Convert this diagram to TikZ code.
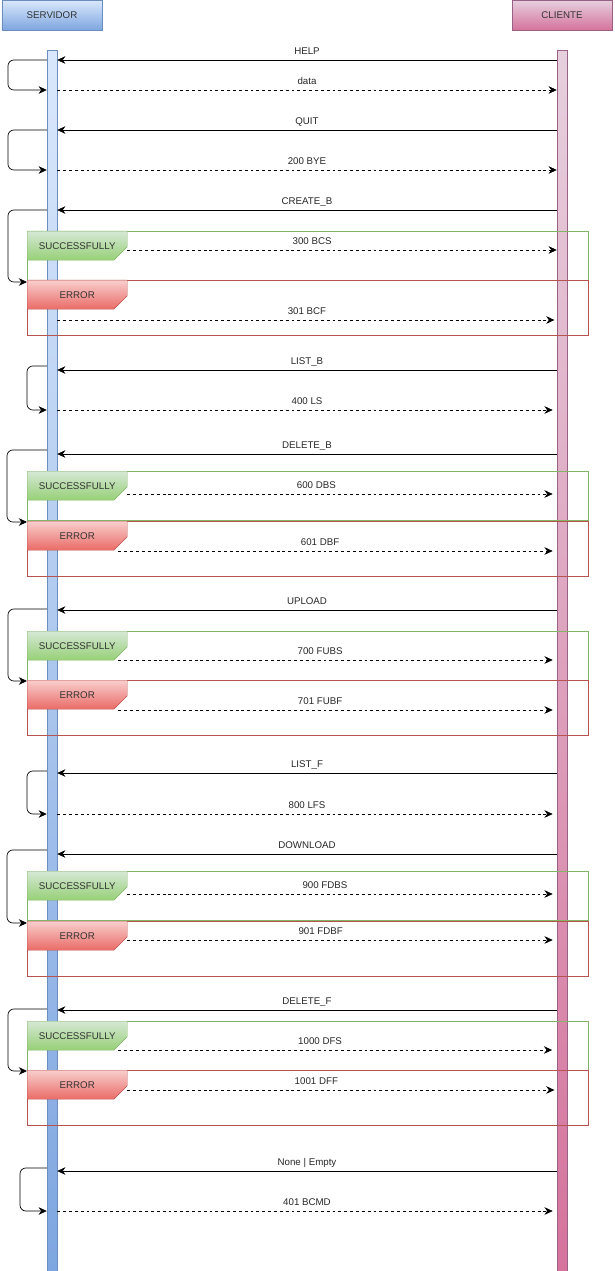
\documentclass[tikz,border=0pt]{standalone}
\usepackage{fontspec}
\setmainfont{Liberation Sans}
\usetikzlibrary{arrows.meta, calc, shapes.misc}
\definecolor{srvTop}{HTML}{DAE8FC}
\definecolor{srvBot}{HTML}{7EA6E0}
\definecolor{srvLine}{HTML}{6C8EBF}
\definecolor{cliTop}{HTML}{E6D0DE}
\definecolor{cliBot}{HTML}{D5739D}
\definecolor{cliLine}{HTML}{996185}
\definecolor{okTop}{HTML}{D5E8D4}
\definecolor{okBot}{HTML}{97D077}
\definecolor{okLine}{HTML}{82B366}
\definecolor{errTop}{HTML}{F8CECC}
\definecolor{errBot}{HTML}{EA6B66}
\definecolor{errLine}{HTML}{B85450}
\newcommand{\lblfont}{\fontsize{8.3}{10}\selectfont}

\begin{document}
\begin{tikzpicture}[
    % one unit = one pixel of the sketch, y grows downwards
    x=0.03cm, y=-0.03cm,
    head/.style={draw=#1Line, top color=#1Top, bottom color=#1Bot,
                 minimum width=3cm, minimum height=0.9cm, inner sep=0pt,
                 font=\lblfont, text=black!80},
    life/.style={draw=#1Line, top color=#1Top, bottom color=#1Bot, anchor=north,
                 minimum width=0.3cm, minimum height=36.63cm, inner sep=0pt},
    tab/.style={chamfered rectangle, chamfered rectangle corners=south east,
                chamfered rectangle xsep=0.27cm, chamfered rectangle ysep=0.3cm,
                draw=#1Line, top color=#1Top, bottom color=#1Bot, anchor=north west,
                minimum width=3cm, minimum height=0.87cm, inner sep=0pt,
                font=\lblfont, text=black!80},
    okframe/.style={draw=okLine, anchor=north west, inner sep=0pt,
                    minimum width=16.83cm, minimum height=1.48cm},
    errframe/.style={draw=errLine, anchor=north west, inner sep=0pt,
                     minimum width=16.83cm, minimum height=1.635cm},
    req/.style={-{Stealth[length=7pt, width=6.5pt]}, line width=0.6pt},
    rep/.style={req, dash pattern=on 2.5pt off 2.5pt},
    selfloop/.style={req, rounded corners=5pt},
    lbl/.style={anchor=base, yshift=5pt, font=\lblfont, text=black!85}
  ]
  \useasboundingbox (0,0) rectangle (614,1271);

  % ── Participants and lifelines ───────────────────────────────────────────
  \node[head=srv] (srvhead) at (52,15)  {SERVIDOR};
  \node[head=cli] (clihead) at (562,15) {CLIENTE};
  \node[life=srv] (srv) at (52,50)  {};
  \node[life=cli] (cli) at (562,50) {};

  % ── HELP / QUIT ──────────────────────────────────────────────────────────
  \draw[req] (cli.west |- 0,60) -- node[lbl]{HELP} (srv.east |- 0,60);
  \draw[selfloop] (srv.west |- 0,60) -- (8,60) -- (8,90) -- (srv.west |- 0,90);
  \draw[rep] (srv.east |- 0,90) -- node[lbl]{data} (cli.west |- 0,90);

  \draw[req] (cli.west |- 0,130) -- node[lbl]{QUIT} (srv.east |- 0,130);
  \draw[selfloop] (srv.west |- 0,130) -- (8,130) -- (8,170) -- (srv.west |- 0,170);
  \draw[rep] (srv.east |- 0,170) -- node[lbl]{200 BYE} (cli.west |- 0,170);

  % ── CREATE_B ─────────────────────────────────────────────────────────────
  \node[okframe]  (okf1)  at (27,231) {};
  \node[errframe] (errf1) at (27,280) {};
  \node[tab=ok]   (ok1)   at (27,231) {SUCCESSFULLY};
  \node[tab=err]  (err1)  at (27,280) {ERROR};
  \draw[req] (cli.west |- 0,210) -- node[lbl]{CREATE\_B} (srv.east |- 0,210);
  \draw[selfloop] (srv.west |- 0,210) -- (8,210) -- (8,282) -- (err1.west |- 0,282);
  \draw[rep] (ok1.east |- 0,250) -- node[lbl, pos=.43]{300 BCS} (cli.west |- 0,250);
  \draw[rep, shorten >=2pt] (srv.east |- 0,320) -- node[lbl]{301 BCF} (cli.west |- 0,320);

  % ── LIST_B ───────────────────────────────────────────────────────────────
  \draw[req] (cli.west |- 0,370) -- node[lbl]{LIST\_B} (srv.east |- 0,370);
  \draw[selfloop] (srv.west |- 0,366) -- (27,366) -- (27,410) -- (srv.west |- 0,410);
  \draw[rep, shorten >=3.5pt] (srv.east |- 0,410) -- node[lbl]{400 LS} (cli.west |- 0,410);

  % ── DELETE_B ─────────────────────────────────────────────────────────────
  \node[okframe]  (okf2)  at (27,471) {};
  \node[errframe] (errf2) at (27,521) {};
  \node[tab=ok]   (ok2)   at (27,471) {SUCCESSFULLY};
  \node[tab=err]  (err2)  at (27,521) {ERROR};
  \draw[req] (cli.west |- 0,454) -- node[lbl]{DELETE\_B} (srv.east |- 0,454);
  \draw[selfloop] (srv.west |- 0,450) -- (7,450) -- (7,522) -- (err2.west |- 0,522);
  \draw[rep, shorten >=3.5pt] (ok2.east |- 0,494) -- node[lbl, pos=.44]{600 DBS} (cli.west |- 0,494);
  \draw[rep, shorten >=3.5pt] ($(err2.east |- 0,551)+(-9,0)$) -- node[lbl, pos=.46]{601 DBF} (cli.west |- 0,551);

  % ── UPLOAD ───────────────────────────────────────────────────────────────
  \node[okframe]  (okf3)  at (27,631) {};
  \node[errframe] (errf3) at (27,680) {};
  \node[tab=ok]   (ok3)   at (27,631) {SUCCESSFULLY};
  \node[tab=err]  (err3)  at (27,680) {ERROR};
  \draw[req] (cli.west |- 0,610) -- node[lbl]{UPLOAD} (srv.east |- 0,610);
  \draw[selfloop] (srv.west |- 0,609) -- (8,609) -- (8,681) -- (err3.west |- 0,681);
  \draw[rep, shorten >=3.5pt] ($(ok3.east |- 0,660)+(-9,0)$) -- node[lbl, pos=.46]{700 FUBS} (cli.west |- 0,660);
  \draw[rep, shorten >=3.5pt] ($(err3.east |- 0,710)+(-9,0)$) -- node[lbl, pos=.46]{701 FUBF} (cli.west |- 0,710);

  % ── LIST_F ───────────────────────────────────────────────────────────────
  \draw[req] (cli.west |- 0,773) -- node[lbl]{LIST\_F} (srv.east |- 0,773);
  \draw[selfloop] (srv.west |- 0,771) -- (27,771) -- (27,814) -- (srv.west |- 0,814);
  \draw[rep, shorten >=3.5pt] (srv.east |- 0,814) -- node[lbl]{800 LFS} (cli.west |- 0,814);

  % ── DOWNLOAD ─────────────────────────────────────────────────────────────
  \node[okframe]  (okf4)  at (27,871) {};
  \node[errframe] (errf4) at (27,921) {};
  \node[tab=ok]   (ok4)   at (27,871) {SUCCESSFULLY};
  \node[tab=err]  (err4)  at (27,921) {ERROR};
  \draw[req] (cli.west |- 0,854) -- node[lbl]{DOWNLOAD} (srv.east |- 0,854);
  \draw[selfloop] (srv.west |- 0,850) -- (7,850) -- (7,923) -- (err4.west |- 0,923);
  \draw[rep, shorten >=3.5pt] (ok4.east |- 0,894) -- node[lbl, pos=.46]{900 FDBS} (cli.west |- 0,894);
  \draw[rep, shorten >=3.5pt] (err4.east |- 0,940) -- node[lbl, pos=.45]{901 FDBF} (cli.west |- 0,940);

  % ── DELETE_F ─────────────────────────────────────────────────────────────
  \node[okframe]  (okf5)  at (27,1021) {};
  \node[errframe] (errf5) at (27,1070) {};
  \node[tab=ok]   (ok5)   at (27,1021) {SUCCESSFULLY};
  \node[tab=err]  (err5)  at (27,1070) {ERROR};
  \draw[req] (cli.west |- 0,1010) -- node[lbl]{DELETE\_F} (srv.east |- 0,1010);
  \draw[selfloop] (srv.west |- 0,1009) -- (8,1009) -- (8,1071) -- (err5.west |- 0,1071);
  \draw[rep, shorten >=4pt] ($(ok5.east |- 0,1050)+(-9,0)$) -- node[lbl, pos=.46]{1000 DFS} (cli.west |- 0,1050);
  \draw[rep, shorten >=2pt] (err5.east |- 0,1090) -- node[lbl, pos=.44]{1001 DFF} (cli.west |- 0,1090);

  % ── anything else ────────────────────────────────────────────────────────
  \draw[req] (cli.west |- 0,1171) -- node[lbl]{None | Empty} (srv.east |- 0,1171);
  \draw[selfloop] (srv.west |- 0,1168) -- (20,1168) -- (20,1211) -- (srv.west |- 0,1211);
  \draw[rep, shorten >=3.5pt] (srv.east |- 0,1211) -- node[lbl]{401 BCMD} (cli.west |- 0,1211);

\end{tikzpicture}
\end{document}
